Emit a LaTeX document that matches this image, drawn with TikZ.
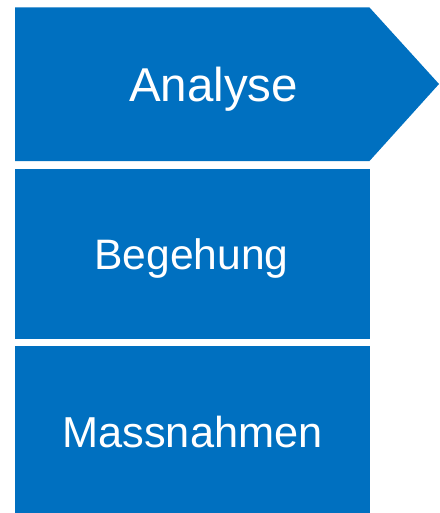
\documentclass[tikz,border=0pt]{standalone}
\usepackage{fontspec}
\setmainfont{Liberation Sans}
\definecolor{stepblue}{HTML}{0070C0}
\begin{document}
\begin{tikzpicture}[x=1pt,y=-1pt,
  blockfill/.style={fill=stepblue,draw=none},
  label/.style={text=white,inner sep=0pt,anchor=base}]
\useasboundingbox (0,0) rectangle (439,513);
\fill[blockfill] (15,7.5) -- (369.5,7.5) -- (439,84) -- (369.5,161) -- (15,161) -- cycle;
\fill[blockfill] (15,169) rectangle (370,339);
\fill[blockfill] (15,346) rectangle (370,513);
\node[label,font=\fontsize{47.5}{50}\selectfont] (analyse) at (213.5,102) {Analyse};
\node[label,font=\fontsize{42.6}{46}\selectfont] (begehung) at (191.5,269) {Begehung};
\node[label,font=\fontsize{43.3}{46}\selectfont] (massnahmen) at (192.5,447) {Massnahmen};
\end{tikzpicture}
\end{document}
